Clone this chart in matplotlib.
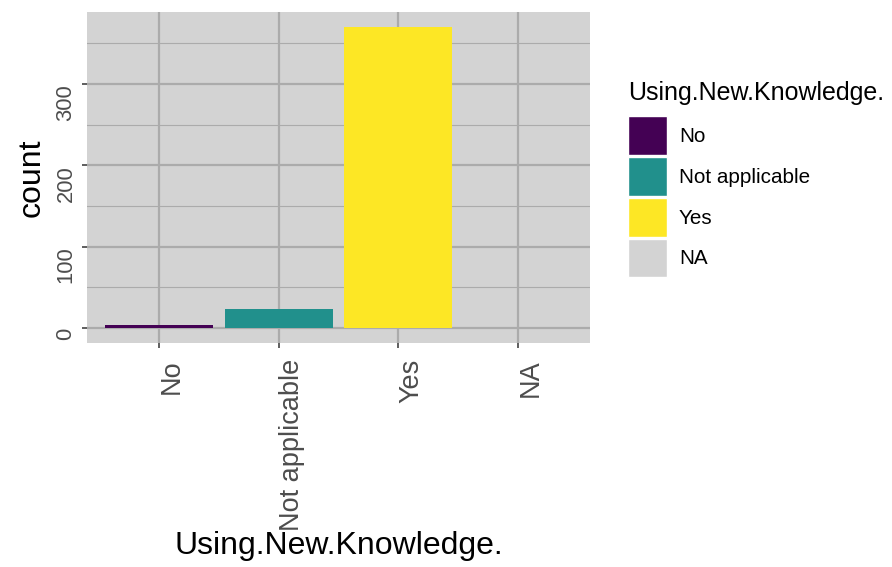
import numpy as np
import matplotlib
matplotlib.use('Agg')
import matplotlib.pyplot as plt
from matplotlib.patches import Patch

plt.rcParams['font.family'] = ['Liberation Sans', 'DejaVu Sans']

# data
categories = ['No', 'Not applicable', 'Yes', 'NA']
counts = [4, 23, 370, 0]
fill_colors = ['#440154', '#21908C', '#FDE725', '#D3D3D3']
y_major = [0, 100, 200, 300]
y_minor = [50, 150, 250, 350]

fig = plt.figure(figsize=(8.92, 5.67), dpi=100)
ax = fig.add_axes([87/892, 1 - 343/567, (590 - 87)/892, (343 - 12)/567])

x = np.arange(1, len(categories) + 1)
ax.set_facecolor('#D3D3D3')
ax.bar(x, counts, width=0.9, color=fill_colors, zorder=3)

ax.set_xlim(0.4, len(categories) + 0.6)
ymax = max(counts)
ax.set_ylim(-0.05 * ymax, ymax * 1.05)

ax.set_xticks(x)
ax.set_xticklabels(categories, rotation=90, ha='left', va='top',
                   fontsize=19.5, color='#4D4D4D')
ax.set_yticks(y_major)
ax.set_yticks(y_minor, minor=True)
ax.set_yticklabels([str(v) for v in y_major], rotation=90, ha='right', va='top',
                   fontsize=15.8, color='#4D4D4D')

ax.grid(which='major', color='#ABABAB', linewidth=1.6, zorder=1)
ax.grid(which='minor', axis='y', color='#ABABAB', linewidth=0.8, zorder=1)
ax.set_axisbelow(True)
ax.tick_params(axis='both', which='major', direction='out', length=3.6,
               width=1.1, color='#333333', pad=4)
ax.tick_params(axis='x', which='major', pad=8)
ax.tick_params(axis='y', which='minor', length=0)
for s in ax.spines.values():
    s.set_visible(False)

ax.set_xlabel('Using.New.Knowledge.', fontsize=23, color='black', labelpad=0)
ax.set_ylabel('count', fontsize=23, color='black', labelpad=6)

handles = [Patch(facecolor=c, edgecolor='white', linewidth=1.0) for c in fill_colors]
leg = fig.legend(handles, categories, loc='upper left',
                 bbox_to_anchor=(620/892, 1 - 73/567), frameon=False,
                 title='Using.New.Knowledge.', title_fontsize=18,
                 fontsize=14.9, handlelength=1.85, handleheight=2.5,
                 handletextpad=0.6, labelspacing=0.1, borderaxespad=0)
leg._legend_box.align = 'left'
leg._legend_box.sep = 8

fig.savefig('out.png', dpi=100)
